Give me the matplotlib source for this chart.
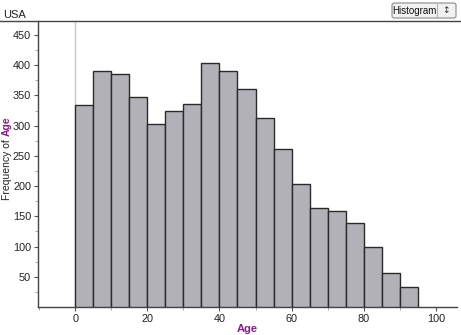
import matplotlib.pyplot as plt
from matplotlib.lines import Line2D
from matplotlib.patches import FancyBboxPatch
import numpy as np

bin_starts = list(range(0, 95, 5))
counts = [334, 391, 385, 348, 302, 324, 336, 403, 391, 360,
          312, 261, 204, 164, 159, 139, 99, 57, 33]
x_ticks = [0, 20, 40, 60, 80, 100]
y_ticks = [50, 100, 150, 200, 250, 300, 350, 400, 450]

purple = "#8b1a8b"
plt.rcParams["font.family"] = ["Liberation Sans", "DejaVu Sans"]

W, H = 461, 335
fig = plt.figure(figsize=(W / 100, H / 100), dpi=100)
ax = fig.add_axes([0.0824, 0.0836, 0.9086, 0.8534])

ax.bar(bin_starts, counts, width=5, align="edge",
       color="#b1b1b7", edgecolor="#2a2a2a", linewidth=1.0, zorder=3)
ax.axvline(0, color="#c8c8c8", linewidth=1.0, zorder=1)

ax.set_xlim(-10.3, 105.8)
ax.set_ylim(0, 473)
ax.set_xticks(x_ticks)
ax.set_xticks(np.arange(-10, 106, 10), minor=True)
ax.set_yticks(y_ticks)
ax.set_yticks(np.arange(25, 470, 25), minor=True)
ax.tick_params(axis="both", which="major", labelsize=7.8, length=3,
               color="#555555", labelcolor="#222222", pad=2)
ax.tick_params(axis="both", which="minor", length=2, color="#999999")

for side in ["top", "right"]:
    ax.spines[side].set_visible(False)
for side in ["left", "bottom"]:
    ax.spines[side].set_color("#444444")
    ax.spines[side].set_linewidth(1.0)

ax.set_xlabel("Age", color=purple, fontsize=8, fontweight="bold", labelpad=0)

# y label: "Frequency of " in black, "Age" in purple
ax.text(-0.075, 0.598, "Frequency of ", transform=ax.transAxes, rotation=90,
        ha="center", va="top", fontsize=7.5, color="#222222")
ax.text(-0.075, 0.598, "Age", transform=ax.transAxes, rotation=90,
        ha="center", va="bottom", fontsize=7.5, color=purple, fontweight="bold")

# frame line across the top of the plot region
fig.add_artist(Line2D([0, 1], [0.937, 0.937], transform=fig.transFigure,
                      color="#444444", linewidth=1.0))

fig.text(3 / W, 1 - 18 / H, "USA", fontsize=8, color="#222222", va="baseline")

# "Histogram" selector button
btn = FancyBboxPatch((392 / W, 1 - 18 / H), 64 / W, 15 / H,
                     boxstyle="round,pad=0,rounding_size=0.006",
                     transform=fig.transFigure, facecolor="#f2f2f2",
                     edgecolor="#8a8a8a", linewidth=0.8)
fig.add_artist(btn)
fig.add_artist(Line2D([437 / W, 437 / W], [1 - 17 / H, 1 - 4 / H],
                      transform=fig.transFigure, color="#b0b0b0", linewidth=0.8))
fig.text(414.5 / W, 1 - 10.5 / H, "Histogram", fontsize=7, color="#111111",
         ha="center", va="center")
fig.text(446 / W, 1 - 10.5 / H, "\u2195", fontsize=6.5, color="#333333",
         ha="center", va="center", family="DejaVu Sans")

fig.savefig("out.png", dpi=100)
